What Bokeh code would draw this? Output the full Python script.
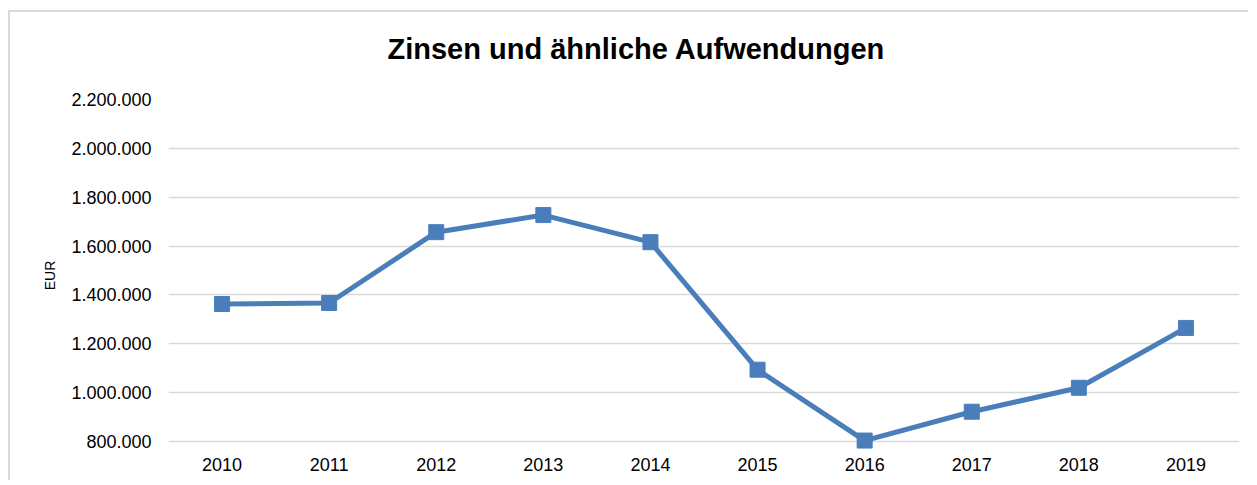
from bokeh.plotting import figure
from bokeh.models import Range1d, FixedTicker, FactorRange, Title
from bokeh.embed import file_html
from bokeh.resources import INLINE

title_text = "Zinsen und ähnliche Aufwendungen"
years = ["2010", "2011", "2012", "2013", "2014", "2015", "2016", "2017", "2018", "2019"]
values = [1363000, 1367000, 1657000, 1727000, 1616000, 1094000, 804000, 922000, 1020000, 1265000]
y_ticks = [800000, 1000000, 1200000, 1400000, 1600000, 1800000, 2000000, 2200000]
y_tick_labels = ["800.000", "1.000.000", "1.200.000", "1.400.000", "1.600.000",
                 "1.800.000", "2.000.000", "2.200.000"]
y_label = "EUR"

FONT = "Liberation Sans"
BLUE = "#4a7ebb"
GRID = "#d9d9d9"

Y_START, Y_END = 759184, 2200000

p = figure(
    width=1240, height=470,
    x_range=FactorRange(*years),
    y_range=Range1d(Y_START, Y_END),
    output_backend="svg", toolbar_location=None,
    min_border_left=158, min_border_right=11, min_border_top=86, min_border_bottom=31,
)
p.styles = {"border-left": f"2px solid {GRID}", "border-top": f"2px solid {GRID}",
            "margin-left": "8px", "margin-top": "10px"}
p.outline_line_color = None

# small spacer between title and plot area
spacer = Title(text=" ", text_font_size="8px", standoff=2)
p.add_layout(spacer, "above")

p.title.text = title_text
p.title.text_font = FONT
p.title.text_font_size = "29px"
p.title.text_font_style = "bold"
p.title.text_color = "#000000"
p.title.align = "left"
p.title.offset = 219
p.title.vertical_align = "top"
p.title.standoff = 40

p.line(years, values, line_color=BLUE, line_width=5)
p.scatter(years, values, marker="square", size=15, fill_color=BLUE, line_color=BLUE)

p.xgrid.grid_line_color = None
p.ygrid.grid_line_color = GRID
p.ygrid.grid_line_width = 1.5

p.yaxis.ticker = FixedTicker(ticks=y_ticks)
p.yaxis.major_label_overrides = {t: l for t, l in zip(y_ticks, y_tick_labels)}
p.yaxis.axis_label = y_label

for ax in (p.xaxis, p.yaxis):
    ax.axis_line_color = None
    ax.major_tick_line_color = None
    ax.minor_tick_line_color = None
    ax.major_label_text_font = FONT
    ax.major_label_text_font_size = "18px"
    ax.major_label_text_color = "#000000"

p.yaxis.major_label_standoff = 11
p.yaxis.axis_label_text_font = FONT
p.yaxis.axis_label_text_font_size = "14px"
p.yaxis.axis_label_text_font_style = "normal"
p.yaxis.axis_label_text_color = "#000000"
p.yaxis.axis_label_standoff = 10
p.xaxis.major_label_standoff = 0

open("out.html", "w").write(file_html(p, INLINE))
